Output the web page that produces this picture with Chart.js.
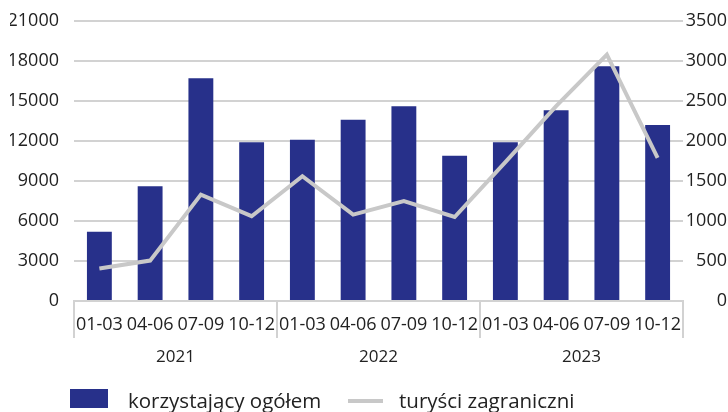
<!DOCTYPE html>
<html>
<head>
<meta charset="utf-8">
<script src="https://cdn.jsdelivr.net/npm/chart.js@4/dist/chart.umd.min.js"></script>
<style>
  html, body { margin: 0; padding: 0; background: #ffffff; }
  #wrap { position: relative; width: 728px; height: 412px; overflow: hidden; }
  #c { position: absolute; left: 0; top: 0; }
  .lg { position: absolute; font-family: "Open Sans", sans-serif; font-size: 20.5px; color: #222; white-space: nowrap; line-height: 22px; }
  .sw { position: absolute; }
</style>
</head>
<body>
<div id="wrap">
  <canvas id="c" width="728" height="412"></canvas>
  <div id="legend"></div>
</div>
<script>
// ---- data ----
const quarters = ['01-03','04-06','07-09','10-12','01-03','04-06','07-09','10-12','01-03','04-06','07-09','10-12'];
const years = ['2021','2022','2023'];
const totalUsers = [5200, 8600, 16700, 11900, 12100, 13600, 14600, 10900, 11900, 14300, 17600, 13200];
const foreignTourists = [405, 505, 1330, 1060, 1560, 1080, 1250, 1050, 1735, 2435, 3080, 1790];
const leftTicks = [0, 3000, 6000, 9000, 12000, 15000, 18000, 21000];
const rightTicks = [0, 500, 1000, 1500, 2000, 2500, 3000, 3500];
const seriesNames = ['korzystający ogółem', 'turyści zagraniczni'];

const NAVY = '#27308a';
const LINEGRAY = '#c8c8c8';
const GRID = '#d2d2d2';
const TXT = '#222222';
const FONT = { family: '"Open Sans", sans-serif', size: 18 };
const FONT_YEAR = { family: '"Open Sans", sans-serif', size: 17 };

function noPad(s) { s.paddingTop = 0; s.paddingBottom = 0; s.paddingLeft = 0; s.paddingRight = 0; }

const chart = new Chart(document.getElementById('c'), {
  data: {
    labels: quarters,
    datasets: [
      {
        type: 'bar', label: seriesNames[0], data: totalUsers, yAxisID: 'y',
        backgroundColor: NAVY, borderWidth: 0, order: 1,
        categoryPercentage: 1, barPercentage: 0.49
      },
      {
        type: 'line', label: seriesNames[1], data: foreignTourists, yAxisID: 'y1',
        borderColor: LINEGRAY, backgroundColor: LINEGRAY, borderWidth: 4,
        pointRadius: 0, tension: 0, order: 0, borderJoinStyle: 'miter'
      }
    ]
  },
  options: {
    responsive: false,
    animation: false,
    layout: { padding: { top: 21, left: 10, right: 1, bottom: 44 } },
    plugins: { legend: { display: false }, tooltip: { enabled: false } },
    scales: {
      x: {
        position: 'bottom',
        offset: true,
        grid: {
          offset: true,
          drawOnChartArea: false,
          drawTicks: true,
          tickLength: 37,
          lineWidth: 2,
          color: (ctx) => (ctx.type !== 'tick' || ctx.index % 4 === 0) ? GRID : 'rgba(0,0,0,0)'
        },
        border: { display: true, color: GRID, width: 2 },
        ticks: { color: TXT, font: FONT, padding: -24, maxRotation: 0, autoSkip: false },
        afterFit: (s) => { s.height = 37; noPad(s); }
      },
      x2: {
        type: 'category',
        position: 'bottom',
        labels: years,
        offset: true,
        grid: { display: false },
        border: { display: false },
        ticks: { color: TXT, font: FONT_YEAR, padding: 1, maxRotation: 0 },
        afterFit: (s) => { s.height = 30; noPad(s); }
      },
      y: {
        position: 'left',
        min: leftTicks[0], max: leftTicks[leftTicks.length - 1],
        afterBuildTicks: (s) => { s.ticks = leftTicks.map(v => ({ value: v })); },
        grid: { color: GRID, lineWidth: 2, drawTicks: false },
        border: { display: false },
        ticks: { color: TXT, font: FONT, padding: 15, callback: (v) => String(v) },
        afterFit: (s) => { s.width = 64; noPad(s); }
      },
      y1: {
        position: 'right',
        min: rightTicks[0], max: rightTicks[rightTicks.length - 1],
        afterBuildTicks: (s) => { s.ticks = rightTicks.map(v => ({ value: v })); },
        grid: { drawOnChartArea: false, drawTicks: false },
        border: { display: false },
        ticks: { color: TXT, font: FONT, padding: 5, crossAlign: 'far', callback: (v) => String(v) },
        afterFit: (s) => { s.width = 44; noPad(s); }
      }
    }
  }
});

// HTML legend built from the chart's datasets
const legend = document.getElementById('legend');
const items = [
  { ds: chart.data.datasets[0], swLeft: 70, swTop: 389, swW: 38, swH: 19, textLeft: 128 },
  { ds: chart.data.datasets[1], swLeft: 348, swTop: 399, swW: 35, swH: 4, textLeft: 399 }
];
items.forEach(it => {
  const sw = document.createElement('div');
  sw.className = 'sw';
  sw.style.left = it.swLeft + 'px';
  sw.style.top = it.swTop + 'px';
  sw.style.width = it.swW + 'px';
  sw.style.height = it.swH + 'px';
  sw.style.background = it.ds.type === 'line' ? it.ds.borderColor : it.ds.backgroundColor;
  legend.appendChild(sw);
  const t = document.createElement('div');
  t.className = 'lg';
  t.style.left = it.textLeft + 'px';
  t.style.top = '389px';
  t.textContent = it.ds.label;
  legend.appendChild(t);
});
</script>
</body>
</html>
